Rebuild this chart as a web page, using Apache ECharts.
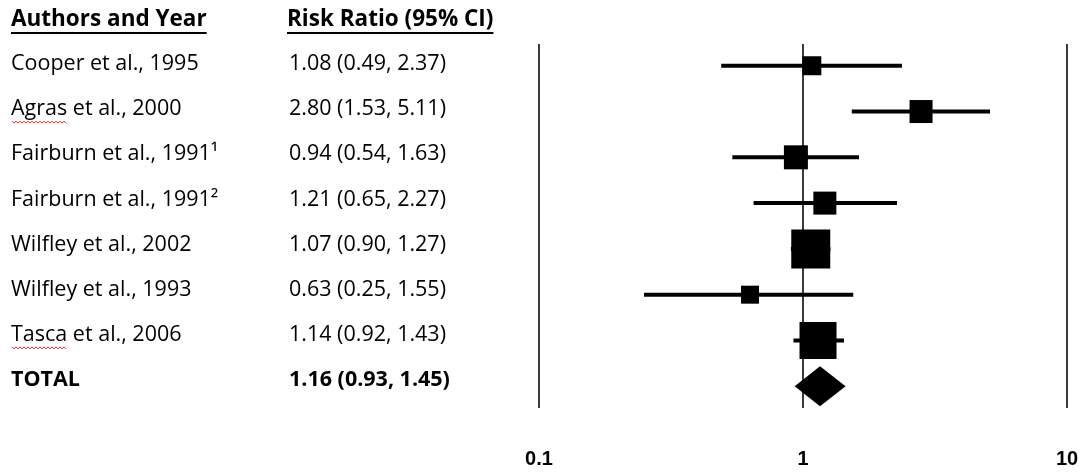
<!DOCTYPE html>
<html><head><meta charset="utf-8">
<script src="https://cdn.jsdelivr.net/npm/echarts@6/dist/echarts.min.js"></script>
<style>html,body{margin:0;padding:0;background:#fff}#c{width:1082px;height:472px}</style>
</head><body><div id="c"></div>
<script>
// ---- data ----
const studies = ['Cooper et al., 1995', 'Agras et al., 2000', 'Fairburn et al., 1991\u00B9', 'Fairburn et al., 1991\u00B2', 'Wilfley et al., 2002', 'Wilfley et al., 1993', 'Tasca et al., 2006'];
const riskRatio = [1.08, 2.80, 0.94, 1.21, 1.07, 0.63, 1.14];
const ciLower = [0.49, 1.53, 0.54, 0.65, 0.90, 0.25, 0.92];
const ciUpper = [2.37, 5.11, 1.63, 2.27, 1.27, 1.55, 1.43];
const totalLabel = 'TOTAL';
const totalRR = [1.16];
const totalLower = [0.93];
const totalUpper = [1.45];
const tickValues = [0.1, 1, 10];
const tickLabels = ['0.1', '1', '10'];
const headers = ['Authors and Year', 'Risk Ratio (95% CI)'];

// ---- style ----
const boxSize = [19, 23, 24, 23, 39, 18, 37];
const FONT = '"Open Sans", sans-serif';
const FS = 21.5;
const HFS = 22.5;
const COL1_X = 11, COL2_X = 289;
const spellMarked = [1, 6];

const fmt = (v) => v.toFixed(2);
const rowText = studies.map((s, i) => [s, `${fmt(riskRatio[i])} (${fmt(ciLower[i])}, ${fmt(ciUpper[i])})`, i, 'normal']);
rowText.push([totalLabel, `${fmt(totalRR[0])} (${fmt(totalLower[0])}, ${fmt(totalUpper[0])})`, studies.length, 'bold']);

const mctx = document.createElement('canvas').getContext('2d');
function textWidth(t, weight, size) { mctx.font = `${weight} ${size}px "Open Sans"`; return mctx.measureText(t).width; }

function squiggle(x0, x1, y) {
  const pts = [];
  let up = true;
  for (let x = x0; x <= x1; x += 2) { pts.push([x, y + (up ? -1 : 1)]); up = !up; }
  return pts;
}

const chart = echarts.init(document.getElementById('c'), null, { renderer: 'canvas' });

const headerGraphics = [];
[[headers[0], COL1_X], [headers[1], 287]].forEach(([t, x]) => {
  const w = textWidth(t, 'bold', HFS);
  headerGraphics.push({ type: 'text', x: x, y: 20, style: { text: t, fontFamily: FONT, fontSize: HFS, fontWeight: 'bold', fill: '#000', verticalAlign: 'middle', align: 'left' } });
  headerGraphics.push({ type: 'line', shape: { x1: x, y1: 33, x2: x + w, y2: 33 }, style: { stroke: '#000', lineWidth: 2 } });
});

chart.setOption({
  animation: false,
  backgroundColor: '#fff',
  grid: { left: 539, right: 15, top: 44, bottom: 64, containLabel: false },
  xAxis: {
    type: 'log', logBase: 10, min: 0.1, max: 10,
    axisLine: { show: false }, axisTick: { show: false },
    splitLine: { show: true, lineStyle: { color: '#3a3a3a', width: 2 } },
    axisLabel: {
      margin: 41, color: '#000', fontFamily: '"Liberation Sans", Arial, sans-serif', fontWeight: 'bold', fontSize: 20,
      formatter: (v) => { const k = tickValues.findIndex(t => Math.abs(t - v) < 1e-9); return k >= 0 ? tickLabels[k] : ''; }
    }
  },
  yAxis: [
    { type: 'value', inverse: true, min: -0.475, max: 7.475, show: false, splitLine: { show: false } },
    { type: 'value', inverse: true, min: -0.443, max: 7.62, show: false, splitLine: { show: false } }
  ],
  graphic: headerGraphics,
  series: [
    {
      type: 'custom', clip: false, silent: true, yAxisIndex: 1,
      data: rowText,
      renderItem: (params, api) => {
        const d = rowText[params.dataIndex];
        const y = api.coord([1, d[2]])[1];
        const children = [
          { type: 'text', x: COL1_X, y: y, style: { text: d[0], fontFamily: FONT, fontSize: FS, fontWeight: d[3], fill: '#000', verticalAlign: 'middle', align: 'left' } },
          { type: 'text', x: COL2_X, y: y, style: { text: d[1], fontFamily: FONT, fontSize: FS, fontWeight: d[3], fill: '#000', verticalAlign: 'middle', align: 'left' } }
        ];
        if (spellMarked.includes(d[2])) {
          const w = textWidth(d[0].split(' ')[0], 'normal', FS);
          children.push({ type: 'polyline', shape: { points: squiggle(COL1_X + 1, COL1_X + w, y + 13) }, style: { stroke: '#e02020', lineWidth: 1, fill: null } });
        }
        return { type: 'group', children };
      }
    },
    {
      type: 'custom', clip: false, silent: true,
      data: riskRatio.map((v, i) => [v, ciLower[i], ciUpper[i], i]),
      renderItem: (params, api) => {
        const row = api.value(3);
        const c = api.coord([api.value(0), row]);
        const l = api.coord([api.value(1), row]);
        const h = api.coord([api.value(2), row]);
        const s = boxSize[params.dataIndex];
        return { type: 'group', children: [
          { type: 'line', shape: { x1: l[0], y1: l[1], x2: h[0], y2: h[1] }, style: { stroke: '#000', lineWidth: 4 } },
          { type: 'rect', shape: { x: c[0] - s / 2, y: c[1] - s / 2, width: s, height: s }, style: { fill: '#000' } }
        ] };
      }
    },
    {
      type: 'custom', clip: false, silent: true,
      data: totalRR.map((v, i) => [v, totalLower[i], totalUpper[i], studies.length]),
      renderItem: (params, api) => {
        const row = api.value(3);
        const c = api.coord([api.value(0), row]);
        const l = api.coord([api.value(1), row]);
        const h = api.coord([api.value(2), row]);
        const hh = 20;
        return { type: 'polygon', shape: { points: [[l[0], c[1]], [c[0], c[1] - hh], [h[0], c[1]], [c[0], c[1] + hh]] }, style: { fill: '#000' } };
      }
    }
  ]
});
</script></body></html>
